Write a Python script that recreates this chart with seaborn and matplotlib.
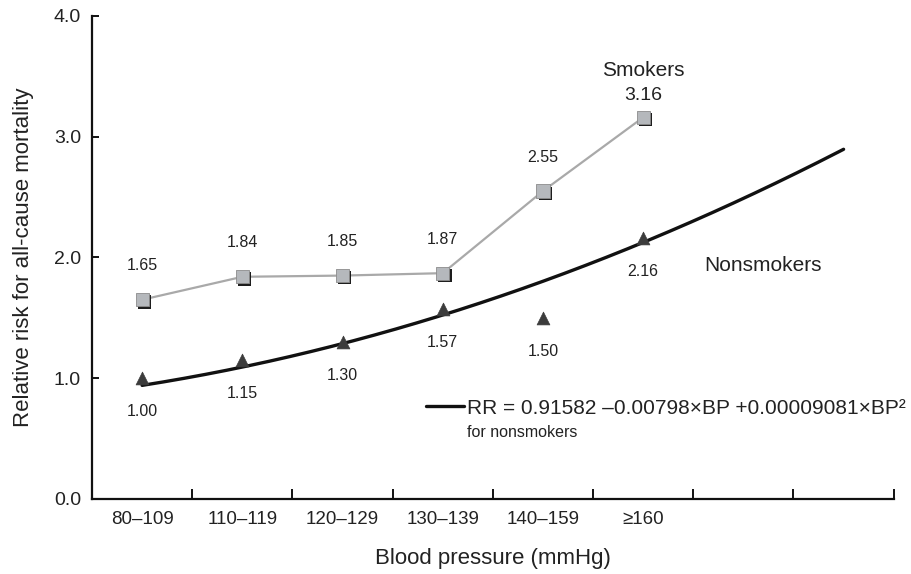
import numpy as np
import pandas as pd
import matplotlib
matplotlib.use("Agg")
import matplotlib.pyplot as plt
import matplotlib.patheffects as pe
from matplotlib.lines import Line2D
from matplotlib.ticker import FixedLocator, NullFormatter, FixedFormatter
import seaborn as sns

# Blood pressure groups and relative risks
categories = ["80–109", "110–119", "120–129", "130–139", "140–159", "≥160"]
smokers_rr = [1.65, 1.84, 1.85, 1.87, 2.55, 3.16]
nonsmokers_rr = [1.00, 1.15, 1.30, 1.57, 1.50, 2.16]
y_ticks = [0.0, 1.0, 2.0, 3.0, 4.0]

# Quadratic fit for nonsmokers: RR = c0 + c1*BP + c2*BP^2
fit_coef = [0.91582, -0.00798, 0.00009081]
# BP represented along the category axis for the fitted curve
bp_start, bp_step = 90.9, 15.3
n_slots = 8

sns.set_theme(style="ticks")
plt.rcParams["font.family"] = ["Liberation Sans", "DejaVu Sans"]

fig = plt.figure(figsize=(9.11, 5.74), dpi=100)
ax = fig.add_axes([0.101, 0.1307, 0.880, 0.8415])

pos = np.arange(len(categories))
smk = pd.DataFrame({"pos": pos, "rr": smokers_rr})
non = pd.DataFrame({"pos": pos, "rr": nonsmokers_rr})

# fitted curve for nonsmokers
xs = np.linspace(0, n_slots - 1, 300)
bp = bp_start + bp_step * xs
fit = pd.DataFrame({"pos": xs,
                    "rr": fit_coef[0] + fit_coef[1] * bp + fit_coef[2] * bp ** 2})
sns.lineplot(data=fit, x="pos", y="rr", color="#111111", lw=2.4, ax=ax,
             zorder=2)

# smokers: grey line with shaded square markers
sns.lineplot(data=smk, x="pos", y="rr", color="#a9a9a9", lw=1.6, ax=ax,
             zorder=3)
sns.scatterplot(data=smk, x="pos", y="rr", marker="s", s=90,
                color="#b5b8bc", edgecolor="#8c8c8c", linewidth=0.6, ax=ax,
                zorder=4,
                path_effects=[pe.SimplePatchShadow(offset=(1.6, -1.6),
                                                   shadow_rgbFace="#111111",
                                                   alpha=0.95),
                              pe.Normal()])

# nonsmokers: dark triangles
sns.scatterplot(data=non, x="pos", y="rr", marker="^", s=85,
                color="#3c3c3c", edgecolor="#3c3c3c", linewidth=0.5, ax=ax,
                zorder=4)

# value labels
for i, v in enumerate(smokers_rr):
    dy = 16 if i == len(smokers_rr) - 1 else 24.5
    fs = 14 if i == len(smokers_rr) - 1 else 11.5
    ax.annotate(f"{v:.2f}", (i, v), xytext=(0, dy), textcoords="offset points",
                ha="center", va="center", fontsize=fs, color="#222222")
for i, v in enumerate(nonsmokers_rr):
    ax.annotate(f"{v:.2f}", (i, v), xytext=(0, -24), textcoords="offset points",
                ha="center", va="center", fontsize=11.5, color="#222222")

last = len(smokers_rr) - 1
ax.annotate("Smokers", (last, smokers_rr[last]), xytext=(0, 34),
            textcoords="offset points", ha="center", va="center",
            fontsize=15, color="#222222")
ax.text(6.2, 1.93, "Nonsmokers", ha="center", va="center", fontsize=15,
        color="#222222")

# fit legend
leg = ax.legend(handles=[Line2D([], [], color="#111111", lw=2.4)],
                labels=["RR = 0.91582 –0.00798×BP +0.00009081×BP²"],
                loc="center left", bbox_to_anchor=(0.416, 0.188),
                frameon=False, handlelength=1.85, handletextpad=0.15,
                borderpad=0, borderaxespad=0, fontsize=15)
for t in leg.get_texts():
    t.set_color("#222222")
ax.text(0.4676, 0.137, "for nonsmokers", transform=ax.transAxes,
        ha="left", va="center", fontsize=11.5, color="#222222")

# axes
ax.set_xlim(-0.5, n_slots - 0.5)
ax.set_ylim(0, 4)
ax.xaxis.set_major_locator(FixedLocator(np.arange(-0.5, n_slots, 1.0)))
ax.xaxis.set_major_formatter(NullFormatter())
ax.xaxis.set_minor_locator(FixedLocator(pos))
ax.xaxis.set_minor_formatter(FixedFormatter(categories))
ax.tick_params(axis="x", which="major", direction="in", length=7, width=1.4,
               color="#111111")
ax.tick_params(axis="x", which="minor", length=0, pad=9, labelsize=13.5,
               labelcolor="#222222")
ax.set_yticks(y_ticks)
ax.set_yticklabels([f"{t:.1f}" for t in y_ticks])
ax.tick_params(axis="y", direction="in", length=5, width=1.4, pad=8,
               labelsize=14, color="#111111", labelcolor="#222222")

for side in ("top", "right"):
    ax.spines[side].set_visible(False)
for side in ("left", "bottom"):
    ax.spines[side].set_linewidth(1.6)
    ax.spines[side].set_color("#111111")

ax.set_xlabel("Blood pressure (mmHg)", fontsize=16, color="#222222",
              labelpad=14)
ax.set_ylabel("Relative risk for all-cause mortality", fontsize=16,
              color="#222222", labelpad=14)

fig.savefig("out.png", dpi=100, facecolor="white")
